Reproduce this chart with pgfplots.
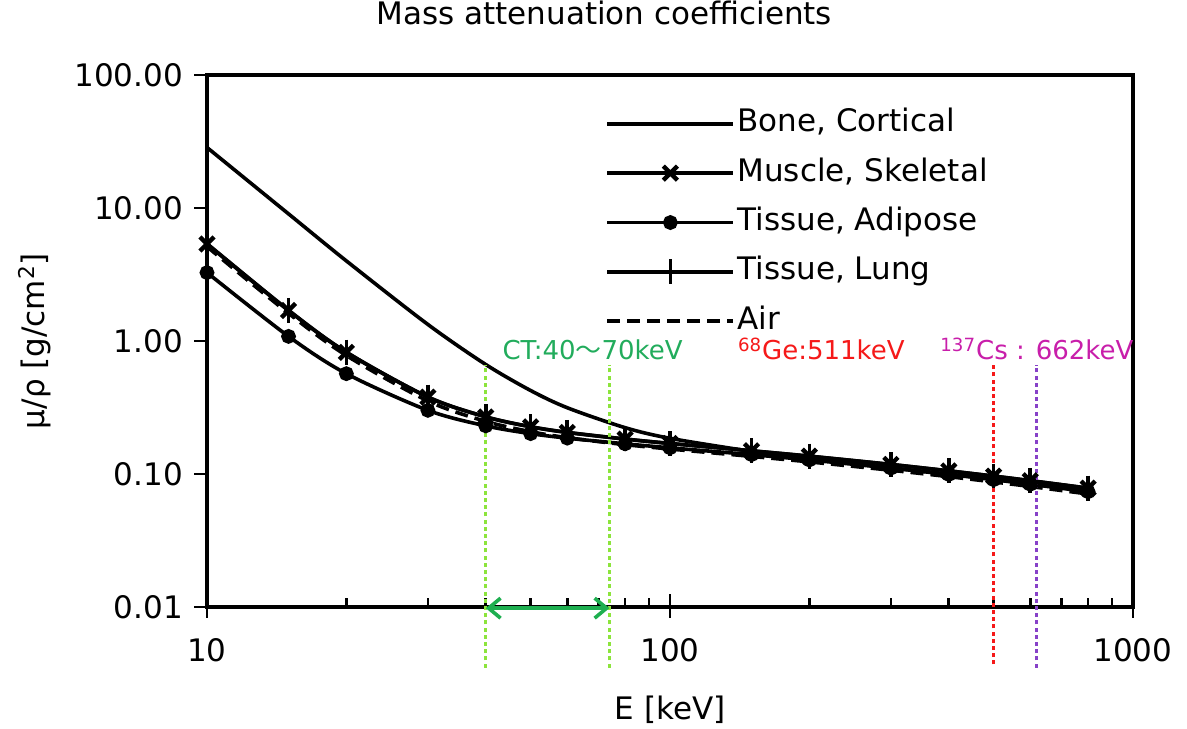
\documentclass[border=0pt]{standalone}
\usepackage{pgfplots}
\pgfplotsset{compat=1.18}
\usepackage{fontspec}
\setmainfont{DejaVu Sans}
\newfontfamily\cjk{Noto Sans CJK JP}
\usetikzlibrary{arrows.meta}
\definecolor{ctgreen}{RGB}{34,172,92}
\definecolor{arrowgreen}{RGB}{30,175,80}
\definecolor{lgreen}{RGB}{140,228,60}
\definecolor{gered}{RGB}{245,25,25}
\definecolor{csmag}{RGB}{200,30,170}
\definecolor{cspurple}{RGB}{135,65,200}
\begin{document}
\begin{tikzpicture}
\begin{axis}[
  scale only axis,
  width=463pt, height=266pt,
  xmode=log, ymode=log,
  xmin=10, xmax=1000, ymin=0.01, ymax=100,
  clip=false,
  axis line style={line width=1.6pt},
  every tick/.style={line width=1.3pt, black},
  major tick length=6.5pt, minor tick length=4.5pt,
  xtick pos=bottom, ytick pos=left,
  xtick align=inside, ytick align=outside,
  yminorticks=false,
  xtick={10,100,1000}, xticklabels={10,100,1000},
  minor xtick={20,30,40,50,60,70,80,90,200,300,400,500,600,700,800,900},
  ytick={0.01,0.1,1,10,100}, yticklabels={0.01,0.10,1.00,10.00,100.00},
  tick label style={font=\fontsize{15.5}{18}\selectfont},
  xticklabel style={yshift=-12pt},
  yticklabel style={xshift=-2pt},
  title={Mass attenuation coefficients},
  title style={at={(0.429,1.094)}, anchor=center, font=\fontsize{15.5}{18}\selectfont},
  xlabel={E [keV]}, ylabel={μ/ρ [g/cm\textsuperscript{2}]},
  every axis x label/.style={at={(0.5,-0.194)}, anchor=center, font=\fontsize{15.5}{18}\selectfont},
  every axis y label/.style={at={(-0.186,0.5)}, rotate=90, anchor=center, font=\fontsize{15.5}{18}\selectfont},
  legend image code/.code={\draw[mark repeat=2,mark phase=2,#1] plot coordinates {(0pt,0pt) (31.5pt,0pt) (63pt,0pt)};},
  legend cell align=left,
  legend style={at={(0.43,0.9396)}, anchor=north west, draw=none, fill=none, inner sep=0pt,
    row sep=8.25pt, font=\fontsize{15.5}{18}\selectfont,
    nodes={inner sep=1.2pt, text height=11pt, text depth=3pt}},
]
\addplot[black, line width=1.8pt, smooth] coordinates {
(10,28.51) (15,9.032) (20,4.001) (30,1.331) (40,0.6655) (50,0.4242) (60,0.3148) (80,0.2229)
(100,0.1855) (150,0.1480) (200,0.1309) (300,0.1113) (400,0.09976) (500,0.09133) (600,0.08471) (800,0.07487)};
\addlegendentry{Bone, Cortical}
\addplot[black, line width=1.8pt, smooth, mark=x, mark size=5pt, mark options={line width=2.2pt}] coordinates {
(10,5.356) (15,1.693) (20,0.8205) (30,0.3783) (40,0.2685) (50,0.2262) (60,0.2052) (80,0.1829)
(100,0.1695) (150,0.1493) (200,0.1360) (300,0.1179) (400,0.1055) (500,0.09631) (600,0.08904) (800,0.07820)};
\addlegendentry{Muscle, Skeletal}
\addplot[black, line width=1.8pt, smooth, mark=*, mark size=2.8pt] coordinates {
(10,3.268) (15,1.083) (20,0.5677) (30,0.3010) (40,0.2300) (50,0.2011) (60,0.1860) (80,0.1686)
(100,0.1573) (150,0.1398) (200,0.1275) (300,0.1107) (400,0.09917) (500,0.09056) (600,0.08371) (800,0.07353)};
\addlegendentry{Tissue, Adipose}
\addplot[black, line width=1.8pt, smooth, mark=|, mark size=6.2pt, mark options={line width=1.8pt}] coordinates {
(10,5.395) (15,1.704) (20,0.8249) (30,0.3798) (40,0.2693) (50,0.2268) (60,0.2056) (80,0.1832)
(100,0.1697) (150,0.1495) (200,0.1362) (300,0.1180) (400,0.1056) (500,0.09643) (600,0.08915) (800,0.07829)};
\addlegendentry{Tissue, Lung}
\addplot[black, line width=1.8pt, smooth, dash pattern=on 6.5pt off 3.5pt] coordinates {
(10,5.120) (15,1.614) (20,0.7779) (30,0.3538) (40,0.2485) (50,0.2080) (60,0.1875) (80,0.1662)
(100,0.1541) (150,0.1356) (200,0.1233) (300,0.1067) (400,0.09549) (500,0.08712) (600,0.08055) (800,0.07074)};
\addlegendentry{Air}
% outward half of the major x ticks (they cross the axis line)
\draw[line width=1.3pt] ([yshift=-5.5pt]axis cs:10,0.01) -- (axis cs:10,0.01);
\draw[line width=1.3pt] ([yshift=-5.5pt]axis cs:100,0.01) -- (axis cs:100,0.01);
\draw[line width=1.3pt] ([yshift=-5.5pt]axis cs:1000,0.01) -- (axis cs:1000,0.01);
% reference lines
\addplot[forget plot, lgreen, line width=1.6pt, dash pattern=on 2pt off 1.6pt] coordinates {(40,0.0035) (40,0.66)};
\addplot[forget plot, lgreen, line width=1.6pt, dash pattern=on 2pt off 1.6pt] coordinates {(74,0.0035) (74,0.66)};
\addplot[forget plot, gered, line width=1.6pt, dash pattern=on 2pt off 1.6pt] coordinates {(500,0.0037) (500,0.66)};
\addplot[forget plot, cspurple, line width=1.6pt, dash pattern=on 2pt off 1.6pt] coordinates {(620,0.0035) (620,0.66)};
\addplot[forget plot, arrowgreen, line width=1.8pt, {Straight Barb[length=6pt,width=10pt]}-{Straight Barb[length=6pt,width=10pt]}] coordinates {(40,0.0098) (74,0.0098)};
\node[anchor=base west, inner sep=0pt, text=ctgreen, font=\fontsize{13}{15}\selectfont] at (axis cs:43.4,0.72) {CT:40{\cjk ～}70keV};
\node[anchor=base west, inner sep=0pt, text=gered, font=\fontsize{13}{15}\selectfont] at (axis cs:140,0.72) {\textsuperscript{68}Ge:511keV};
\node[anchor=base west, inner sep=0pt, text=csmag, font=\fontsize{13}{15}\selectfont] at (axis cs:383,0.72) {\textsuperscript{137}Cs : 662keV};
\end{axis}
\pgfresetboundingbox
\useasboundingbox ([shift={(-103.5pt,-61pt)}]current axis.south west) rectangle ([shift={(27pt,37.5pt)}]current axis.north east);
\end{tikzpicture}
\end{document}
